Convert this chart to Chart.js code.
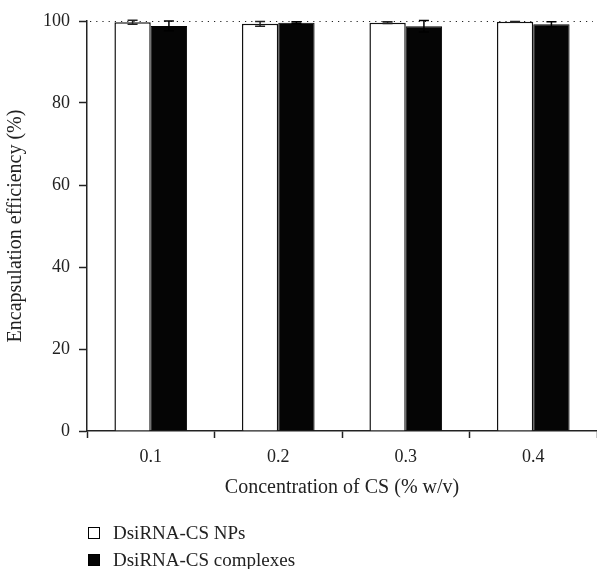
<!DOCTYPE html>
<html>
<head>
<meta charset="utf-8">
<script src="https://cdn.jsdelivr.net/npm/chart.js@4"></script>
<style>
  html, body { margin: 0; padding: 0; background: #fff; }
  #wrap { width: 597px; height: 569px; }
</style>
</head>
<body>
<div id="wrap"><canvas id="myChart"></canvas></div>
<script>
// data
const concentrations = ['0.1', '0.2', '0.3', '0.4'];
const npsValues = [99.7, 99.3, 99.6, 99.8];
const npsErrors = [0.5, 0.6, 0.2, 0.1];
const complexValues = [98.8, 99.6, 98.7, 99.2];
const complexErrors = [1.2, 0.2, 1.4, 0.6];
const yTicks = [0, 20, 40, 60, 80, 100];

const serif = "'Liberation Serif', 'DejaVu Serif', serif";
const ink = '#222';

// error bars + dotted 100% line + legend
const extras = {
    id: 'extras',
    afterDatasetsDraw(chart) {
        const ctx = chart.ctx;
        const y = chart.scales.y;
        const area = chart.chartArea;

        ctx.save();
        ctx.strokeStyle = ink;
        ctx.lineWidth = 1.2;
        ctx.setLineDash([1.2, 5]);
        ctx.beginPath();
        ctx.moveTo(area.left + 3, y.getPixelForValue(100) + 0.5);
        ctx.lineTo(area.right - 4, y.getPixelForValue(100) + 0.5);
        ctx.stroke();
        ctx.restore();

        const errs = [npsErrors, complexErrors];
        chart.data.datasets.forEach((ds, i) => {
            chart.getDatasetMeta(i).data.forEach((bar, j) => {
                const v = ds.data[j];
                const top = y.getPixelForValue(v + errs[i][j]);
                const bot = y.getPixelForValue(v - errs[i][j]);
                ctx.save();
                ctx.strokeStyle = i === 0 ? ink : '#000';
                ctx.lineWidth = 1.5;
                ctx.beginPath();
                ctx.moveTo(bar.x, top);
                ctx.lineTo(bar.x, bot);
                ctx.moveTo(bar.x - 5, top);
                ctx.lineTo(bar.x + 5, top);
                ctx.moveTo(bar.x - 5, bot);
                ctx.lineTo(bar.x + 5, bot);
                ctx.stroke();
                ctx.restore();
            });
        });
    },
    afterDraw(chart) {
        const ctx = chart.ctx;
        ctx.save();
        ctx.font = '19px ' + serif;
        ctx.textBaseline = 'middle';
        chart.data.datasets.forEach((ds, i) => {
            const cy = 533 + i * 27;
            ctx.fillStyle = ds.backgroundColor;
            ctx.strokeStyle = '#000';
            ctx.lineWidth = 1;
            ctx.fillRect(88, cy - 6, 12, 12);
            ctx.strokeRect(88.5, cy - 5.5, 11, 11);
            ctx.fillStyle = ink;
            ctx.fillText(ds.label, 113, cy + 1);
        });
        ctx.restore();
    }
};

new Chart(document.getElementById('myChart'), {
    type: 'bar',
    data: {
        labels: concentrations,
        datasets: [{
            label: 'DsiRNA-CS NPs',
            data: npsValues,
            backgroundColor: '#ffffff',
            borderColor: '#111',
            borderWidth: 1.5
        }, {
            label: 'DsiRNA-CS complexes',
            data: complexValues,
            backgroundColor: '#050505',
            borderColor: '#050505',
            borderWidth: 1
        }]
    },
    options: {
        responsive: true,
        maintainAspectRatio: false,
        animation: false,
        layout: { padding: { top: 21, right: 0, left: 0, bottom: 0 } },
        plugins: {
            legend: { display: false },
            tooltip: { enabled: false }
        },
        datasets: {
            bar: { categoryPercentage: 0.57, barPercentage: 1.0 }
        },
        scales: {
            x: {
                grid: {
                    display: true,
                    drawOnChartArea: false,
                    tickLength: 7,
                    tickColor: ink,
                    tickWidth: 1.5,
                    offset: true
                },
                border: { color: ink, width: 1.5 },
                ticks: { color: ink, font: { family: serif, size: 18 }, padding: 8 },
                title: {
                    display: true,
                    text: 'Concentration of CS (% w/v)',
                    color: ink,
                    font: { family: serif, size: 20 },
                    padding: { top: 0, bottom: 69 }
                },
                afterFit(scale) { scale.height = 138; }
            },
            y: {
                min: 0,
                max: 100,
                afterBuildTicks(scale) { scale.ticks = yTicks.map(v => ({ value: v })); },
                grid: {
                    display: true,
                    drawOnChartArea: false,
                    tickLength: 8,
                    tickColor: ink,
                    tickWidth: 1.5
                },
                border: { color: ink, width: 1.5 },
                ticks: { color: ink, font: { family: serif, size: 18 }, padding: 9 },
                title: {
                    display: true,
                    text: 'Encapsulation efficiency (%)',
                    color: ink,
                    font: { family: serif, size: 20 },
                    padding: { top: 4, bottom: 0 }
                },
                afterFit(scale) { scale.width = 87; }
            }
        }
    },
    plugins: [extras]
});
</script>
</body>
</html>
